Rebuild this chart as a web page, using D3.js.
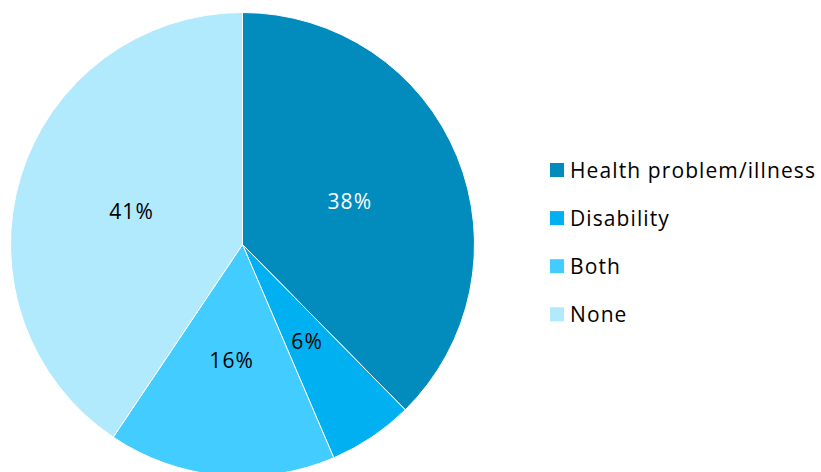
<!DOCTYPE html>
<html>
<head>
<meta charset="utf-8">
<script src="https://cdn.jsdelivr.net/npm/d3@7"></script>
<style>
  html, body { margin: 0; padding: 0; background: #fff; }
  svg { display: block; font-family: "Open Sans", Lato, sans-serif; }
</style>
</head>
<body>
<svg id="chart" width="821" height="472"></svg>
<script>
// Share of respondents by type of limitation
const categories = ["Health problem/illness", "Disability", "Both", "None"];
const values = [38, 6, 16, 41];
const colors = ["#028bbd", "#00b0f0", "#42ccff", "#b1e9fd"];
const labelColors = ["#ffffff", "#000000", "#000000", "#000000"];

const svg = d3.select("#chart");
const cx = 242.5, cy = 244.5, radius = 232;

const pie = d3.pie().sort(null).value(d => d.value);
const arcs = pie(categories.map((c, i) => ({ name: c, value: values[i], i })));

const arc = d3.arc().innerRadius(0).outerRadius(radius);
const labelArc = d3.arc().innerRadius(radius * 0.5).outerRadius(radius * 0.5);

const g = svg.append("g").attr("transform", `translate(${cx},${cy})`);

g.selectAll("path.slice")
  .data(arcs)
  .join("path")
  .attr("class", "slice")
  .attr("d", arc)
  .attr("fill", d => colors[d.data.i])
  .attr("stroke", "#ffffff")
  .attr("stroke-width", 1);

g.selectAll("text.value")
  .data(arcs)
  .join("text")
  .attr("class", "value")
  .attr("transform", d => `translate(${labelArc.centroid(d)})`)
  .attr("text-anchor", "middle")
  .attr("dominant-baseline", "central")
  .attr("font-size", 21)
  .attr("letter-spacing", 1.1)
  .attr("fill", d => labelColors[d.data.i])
  .text(d => d.data.value + "%");

// Legend
const legend = svg.append("g").attr("transform", "translate(550,170)");
const rows = legend.selectAll("g.row")
  .data(categories)
  .join("g")
  .attr("class", "row")
  .attr("transform", (d, i) => `translate(0,${i * 48.1})`);

rows.append("rect")
  .attr("x", 0).attr("y", -7)
  .attr("width", 14).attr("height", 14)
  .attr("fill", (d, i) => colors[i]);

rows.append("text")
  .attr("x", 20)
  .attr("y", 0)
  .attr("dominant-baseline", "central")
  .attr("font-size", 21)
  .attr("letter-spacing", 1.1)
  .attr("fill", "#000")
  .text(d => d);
</script>
</body>
</html>
